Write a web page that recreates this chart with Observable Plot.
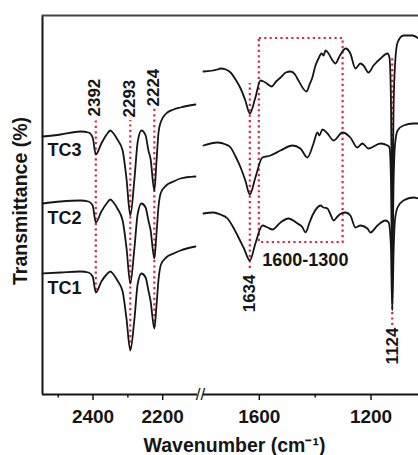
<!DOCTYPE html>
<html>
<head>
<meta charset="utf-8">
<script src="https://cdn.jsdelivr.net/npm/d3@7"></script>
<script src="https://cdn.jsdelivr.net/npm/@observablehq/plot@0.6"></script>
<style>
  html, body { margin: 0; padding: 0; background: #fff; overflow: hidden; }
  #chart { position: relative; width: 418px; height: 455px; }
  #chart svg { position: absolute; top: 0; }
</style>
</head>
<body>
<div id="chart"></div>
<script>
// ---- data: [wavenumber (cm-1), transmittance (a.u., stacked)] ----
const tc1Left = [[2545,121],[2493,122],[2436,123],[2413,122],[2401,118],[2392,102],[2376,113],[2361,120],[2350,123],[2341,120],[2330,114],[2315,103],[2304,76],[2293,44],[2281,76],[2272,110],[2261,121],[2249,117],[2241,104],[2235,94],[2224,66],[2218,88],[2212,115],[2205,130],[2190,137],[2169,141],[2149,144],[2106,148]];
const tc2Left = [[2545,191],[2493,193],[2436,194],[2413,193],[2401,189],[2392,172],[2376,183],[2361,191],[2350,195],[2341,192],[2330,186],[2315,174],[2304,147],[2293,111],[2281,147],[2272,180],[2261,191],[2249,187],[2241,174],[2235,165],[2224,136],[2218,160],[2212,188],[2205,202],[2190,209],[2169,213],[2149,216],[2106,218]];
const tc3Left = [[2545,258],[2493,260],[2436,263],[2413,262],[2401,257],[2392,240],[2376,251],[2361,260],[2350,264],[2341,261],[2330,255],[2315,244],[2304,216],[2293,179],[2281,216],[2272,252],[2261,264],[2249,259],[2241,244],[2235,236],[2224,204],[2218,232],[2212,262],[2205,273],[2190,281],[2169,285],[2149,287],[2106,290]];

const tc1Right = [[1800,181],[1764,182],[1740,180],[1714,176],[1695,168],[1678,159],[1655,146],[1634,134],[1614,151],[1589,169],[1570,167],[1553,165],[1524,172],[1496,176],[1463,171],[1445,167],[1435,162],[1420,172],[1410,179],[1392,187],[1381,189],[1370,187],[1356,186],[1345,180],[1334,174],[1320,178],[1307,181],[1291,182],[1274,179],[1256,167],[1238,169],[1213,166],[1202,162],[1177,169],[1148,174],[1137,172],[1129,150],[1124,84],[1119,145],[1114,175],[1105,187],[1084,194],[1048,197],[1030,196]];
const tc2Right = [[1800,249],[1750,252],[1720,250],[1703,247],[1685,238],[1667,227],[1650,214],[1634,200],[1614,217],[1589,237],[1560,239],[1524,244],[1481,249],[1453,246],[1428,237],[1406,251],[1392,262],[1385,259],[1374,265],[1356,261],[1334,254],[1302,262],[1274,257],[1249,247],[1231,251],[1209,246],[1166,251],[1141,249],[1134,247],[1129,220],[1124,124],[1119,215],[1114,250],[1105,264],[1084,269],[1048,271],[1030,271]];
const tc3Right = [[1800,323],[1750,325],[1739,326],[1720,325],[1703,322],[1685,315],[1667,306],[1650,294],[1634,281],[1614,297],[1596,314],[1585,313],[1578,312],[1556,308],[1540,313],[1524,317],[1505,322],[1488,323],[1472,320],[1460,314],[1431,303],[1420,310],[1410,317],[1400,328],[1388,336],[1377,341],[1370,339],[1363,344],[1352,341],[1340,335],[1327,331],[1315,337],[1307,341],[1291,346],[1274,341],[1256,326],[1238,331],[1227,329],[1209,322],[1191,329],[1166,336],[1141,341],[1134,337],[1129,300],[1124,179],[1119,290],[1114,330],[1105,352],[1084,359],[1052,359],[1030,356]];

const seriesNames = ["TC1", "TC2", "TC3"];
const seriesLabelY = [106, 176, 244];

// peak markers
const peakWn = [2392, 2293, 2224, 1634, 1124];
const peakLabels = ["2392", "2293", "2224", "1634", "1124"];
const peakTop = [276, 274, 286, 311, 339];
const peakBottom = [104, 46, 67, 126, 69];
const peakLabelAt = [278, 277, 288, 120, 67];
const peakLabelAbove = [true, true, true, false, false];

// region box
const regionRange = [1600, 1300];
const regionT = [152, 356];
const regionLabel = "1600-1300";

// broken x axis: two panels
const leftDomain = [2545, 2091.5];
const rightDomain = [1810.6, 1030];
const leftData = [2545, 2100];
const rightData = [1800, 1030];
const xTicksLeft = [2400, 2200];
const xTicksRight = [1600, 1200];
const xMinorLeft = [2500, 2300];
const xMinorRight = [1400];

const red = "#d42a46";
const ink = "#151515";
const font = "'Liberation Sans', Arial, Helvetica, sans-serif";
const dash = "2.2,3.2";

const seg = (arr, name) => arr.map(([wn, t]) => ({wn, t, s: name}));
const peaks = peakWn.map((wn, i) => ({wn, top: peakTop[i], bottom: peakBottom[i], label: peakLabels[i], at: peakLabelAt[i], above: peakLabelAbove[i]}));
const leftPeaks = peaks.filter(p => p.wn > 2000);
const rightPeaks = peaks.filter(p => p.wn < 2000);

const common = {
  height: 455,
  marginTop: 15,
  marginBottom: 61,
  y: {domain: [0, 379], axis: null},
  style: {fontFamily: font, background: "none", color: ink, overflow: "visible"}
};

const peakMarks = (pk) => [
  Plot.ruleX(pk, {x: "wn", y1: "bottom", y2: "top", stroke: red, strokeWidth: 2.2, strokeDasharray: dash})
];
const peakText = (pk) => [
  Plot.text(pk.filter(d => d.above), {x: "wn", y: "at", text: "label", rotate: -90, textAnchor: "start", lineAnchor: "middle", fontSize: 17, fontWeight: "bold", fill: ink, dx: -1}),
  Plot.text(pk.filter(d => !d.above), {x: "wn", y: "at", text: "label", rotate: -90, textAnchor: "end", lineAnchor: "middle", fontSize: 17, fontWeight: "bold", fill: ink, dx: 0})
];
const ticks = (major, minor) => [
  Plot.axisX({ticks: major, tickSize: 6, tickPadding: 9, tickFormat: d => String(d), fontSize: 19, fontWeight: "bold", label: null, strokeWidth: 1.5}),
  Plot.ruleX(minor, {x: d => d, y1: 0, y2: -3.5, stroke: ink, strokeWidth: 1.5})
];

const left = Plot.plot({
  ...common,
  width: 200,
  marginLeft: 42,
  marginRight: 0,
  x: {domain: leftDomain, axis: null},
  marks: [
    ...peakMarks(leftPeaks),
    Plot.line([...seg(tc1Left, "TC1"), ...seg(tc2Left, "TC2"), ...seg(tc3Left, "TC3")], {x: "wn", y: "t", z: "s", stroke: ink, strokeWidth: 1.8, curve: "monotone-x"}),
    Plot.ruleX([leftData[0]], {y1: 0, y2: 379, stroke: ink, strokeWidth: 2}),
    Plot.ruleY([379], {stroke: "#444", strokeWidth: 2}),
    Plot.ruleY([0], {x1: leftData[0], x2: leftData[1], stroke: ink, strokeWidth: 2}),
    Plot.text(["//"], {x: leftData[1], y: 0, dx: 3, fontSize: 17, fill: ink, text: d => d, lineAnchor: "middle"}),
    ...ticks(xTicksLeft, xMinorLeft),
    ...peakText(leftPeaks),
    Plot.text(seriesNames, {x: leftData[0], y: (d, i) => seriesLabelY[i], text: d => d, textAnchor: "start", lineAnchor: "middle", dx: 5, fontSize: 18, fontWeight: "bold", fill: ink}),
    Plot.text(["Transmittance (%)"], {frameAnchor: "left", text: d => d, rotate: -90, dx: -22, dy: -4, fontSize: 19.5, fontWeight: "bold", fill: ink, lineAnchor: "middle", textAnchor: "middle"}),
    Plot.text(["Wavenumber (cm\u207B\u00B9)"], {frameAnchor: "bottom-right", text: d => d, dx: 34, dy: 51, fontSize: 19.5, fontWeight: "bold", fill: ink, lineAnchor: "middle", textAnchor: "middle"})
  ]
});

const right = Plot.plot({
  ...common,
  width: 218,
  marginLeft: 0,
  marginRight: 0,
  x: {domain: rightDomain, axis: null},
  marks: [
    ...peakMarks(rightPeaks),
    Plot.rect([0], {x1: regionRange[0], x2: regionRange[1], y1: regionT[0], y2: regionT[1], fill: "none", stroke: red, strokeWidth: 2.2, strokeDasharray: dash}),
    Plot.line([...seg(tc1Right, "TC1"), ...seg(tc2Right, "TC2"), ...seg(tc3Right, "TC3")], {x: "wn", y: "t", z: "s", stroke: ink, strokeWidth: 1.8, curve: "monotone-x"}),
    Plot.ruleY([379], {stroke: "#444", strokeWidth: 2}),
    Plot.ruleY([0], {x1: rightData[0], x2: rightData[1], stroke: ink, strokeWidth: 2}),
    ...ticks(xTicksRight, xMinorRight),
    ...peakText(rightPeaks),
    Plot.text([regionLabel], {x: regionRange[0], y: 134, text: d => d, textAnchor: "start", lineAnchor: "middle", dx: 3, fontSize: 18, fontWeight: "bold", fill: ink})
  ]
});

left.style.left = "0px";
right.style.left = "200px";
const host = document.getElementById("chart");
host.appendChild(left);
host.appendChild(right);
</script>
</body>
</html>
